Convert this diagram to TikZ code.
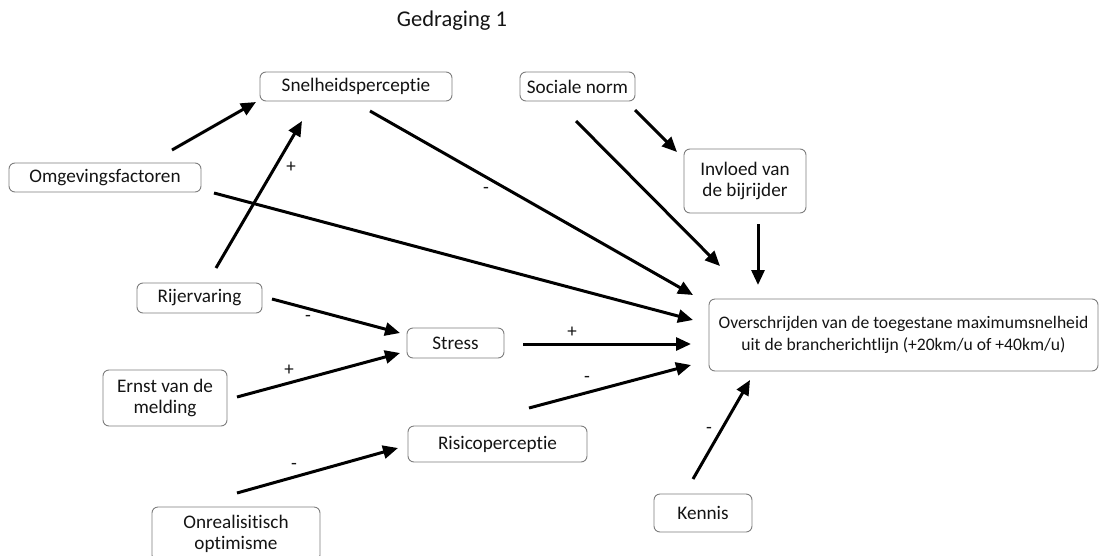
\documentclass[tikz,border=0pt]{standalone}
\usepackage{fontspec}
\setmainfont{Carlito}[Ligatures=NoCommon]
\usetikzlibrary{arrows.meta}
\definecolor{boxgray}{RGB}{125,125,125}
\definecolor{inkblack}{RGB}{20,20,20}
\begin{document}
\begin{tikzpicture}[x=1pt,y=-1pt,
  box/.style={draw=boxgray, line width=0.9pt, rounded corners=6pt, align=center,
    inner sep=0pt, text=inkblack, font=\fontsize{19.2}{21}\selectfont},
  link/.style={draw=black, line width=3pt, -{Triangle[length=15pt,width=13pt]}},
  sign/.style={font=\fontsize{19}{19}\selectfont, inner sep=0pt, text=inkblack}]
\path[use as bounding box] (0,0) rectangle (1101,555);
\clip (0,0) rectangle (1101,555);

% title
\node[font=\fontsize{22.5}{22.5}\selectfont, text=inkblack] (title) at (452,21) {Gedraging 1};

% factors
\node[box, minimum width=192pt, minimum height=29pt] (snel) at (356,86.5) {Snelheidsperceptie};
\node[box, minimum width=115pt, minimum height=29pt] (soc)  at (577.5,86.5) {Sociale norm};
\node[box, minimum width=192pt, minimum height=29pt] (omg)  at (105,177.5) {Omgevingsfactoren};
\node[box, minimum width=122pt, minimum height=64pt] (bij)  at (745,181) {Invloed van\\de bijrijder};
\node[box, minimum width=125pt, minimum height=30pt] (rij)  at (199.5,298) {Rijervaring};
\node[box, minimum width=97pt,  minimum height=30pt] (str)  at (455.5,343) {Stress};
\node[box, minimum width=124pt, minimum height=56pt] (ern)  at (165,398) {Ernst van de\\melding};
\node[box, minimum width=179pt, minimum height=36pt] (ris)  at (497.5,444) {Risicoperceptie};
\node[box, minimum width=168pt, minimum height=54pt] (onr)  at (236,534) {Onrealisitisch\\optimisme};
\node[box, minimum width=98pt,  minimum height=38pt] (ken)  at (703,513) {Kennis};

% outcome
\node[box, minimum width=389pt, minimum height=72pt, font=\fontsize{17.6}{22}\selectfont] (ovs) at (903.5,335)
  {Overschrijden van de toegestane maximumsnelheid\\uit de brancherichtlijn (+20km/u of +40km/u)};

% arrow end points (arrows float between the boxes)
\coordinate (omgA) at (172,150);  \coordinate (snelA) at (256,102);
\coordinate (rijA) at (216,268);  \coordinate (snelB) at (302,121);
\coordinate (snelC) at (370,111); \coordinate (ovsA)  at (693,295);
\coordinate (omgB) at (214,193);  \coordinate (ovsB)  at (693,320);
\coordinate (socA) at (576,121);  \coordinate (ovsC)  at (720,266);
\coordinate (socB) at (635,110);  \coordinate (bijA)  at (677,152);
\coordinate (bijB) at (758,224);  \coordinate (ovsD)  at (758,285);
\coordinate (rijB) at (272,299);  \coordinate (strA)  at (400,333);
\coordinate (ernA) at (237,397);  \coordinate (strB)  at (400,353);
\coordinate (strC) at (523,344);  \coordinate (ovsE)  at (691,344);
\coordinate (risA) at (529,408);  \coordinate (ovsF)  at (691,365);
\coordinate (onrA) at (237,493);  \coordinate (risB)  at (398,448);
\coordinate (kenA) at (693,479);  \coordinate (ovsG)  at (750,380);

% influences
\draw[link] (omgA) -- (snelA);
\draw[link] (rijA) -- (snelB);
\draw[link] (snelC) -- (ovsA);
\draw[link] (omgB) -- (ovsB);
\draw[link] (socA) -- (ovsC);
\draw[link] (socB) -- (bijA);
\draw[link] (bijB) -- (ovsD);
\draw[link] (rijB) -- (strA);
\draw[link] (ernA) -- (strB);
\draw[link] (strC) -- (ovsE);
\draw[link] (risA) -- (ovsF);
\draw[link] (onrA) -- (risB);
\draw[link] (kenA) -- (ovsG);

% signs
\node[sign] (sSnelB) at (291,167) {+};
\node[sign] (sSnelC) at (486,190) {-};
\node[sign] (sRij) at (308,318) {-};
\node[sign] (sErn) at (289,370) {+};
\node[sign] (sStr) at (572,332) {+};
\node[sign] (sRis) at (587,379) {-};
\node[sign] (sOnr) at (294,466) {-};
\node[sign] (sKen) at (709,430) {-};
\end{tikzpicture}
\end{document}
